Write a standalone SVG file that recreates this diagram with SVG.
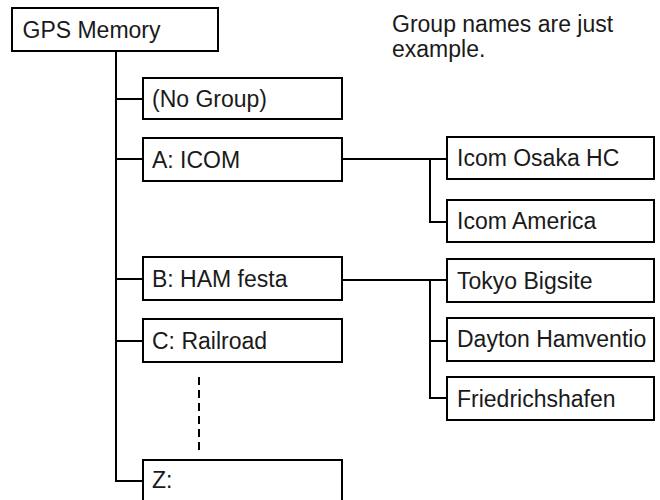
<svg xmlns="http://www.w3.org/2000/svg" width="660" height="500" viewBox="0 0 660 500">
<style>
.box{fill:#fff;stroke:#000;stroke-width:2}
.t{font-family:"Liberation Sans",Arial,sans-serif;font-size:23px;fill:#1a1a1a}
.c{fill:none;stroke:#000;stroke-width:2}
</style>
<rect width="660" height="500" fill="#fff"/>
<g id="connectors">
<path class="c" d="M116 51V481H143M116 99H143M116 159H143M116 279H143M116 341H143"/>
<path class="c" d="M342 159H447M430 159V222H447"/>
<path class="c" d="M342 280H447M430 280V398H447M430 341H447"/>
<path class="c" d="M199 377V450" stroke-dasharray="8,5"/>
</g>
<g id="gps"><rect class="box" x="12" y="8" width="206" height="43"/><text class="t" x="22.5" y="37.5">GPS Memory</text></g>
<g id="nogroup"><rect class="box" x="143" y="78" width="199" height="41"/><text class="t" x="152" y="106.5">(No Group)</text></g>
<g id="a"><rect class="box" x="143" y="138" width="199" height="43"/><text class="t" x="152" y="167.5">A: ICOM</text></g>
<g id="b"><rect class="box" x="143" y="257" width="199" height="43"/><text class="t" x="152" y="286.5">B: HAM festa</text></g>
<g id="c"><rect class="box" x="143" y="319" width="199" height="43"/><text class="t" x="152" y="348.5">C: Railroad</text></g>
<g id="z"><rect class="box" x="143" y="460" width="199" height="42"/><text class="t" x="152" y="488">Z:</text></g>
<g id="osaka"><rect class="box" x="447" y="137" width="207" height="42"/><text class="t" x="457" y="166">Icom Osaka HC</text></g>
<g id="america"><rect class="box" x="447" y="200" width="207" height="42"/><text class="t" x="457" y="229">Icom America</text></g>
<g id="tokyo"><rect class="box" x="447" y="259" width="207" height="43"/><text class="t" x="457" y="288.5">Tokyo Bigsite</text></g>
<g id="dayton"><rect class="box" x="447" y="318" width="207" height="43"/><text class="t" x="457" y="347">Dayton Hamventio</text></g>
<g id="fried"><rect class="box" x="447" y="377" width="207" height="43"/><text class="t" x="457" y="406.5">Friedrichshafen</text></g>
<g id="note"><text class="t" x="392" y="32">Group names are just</text><text class="t" x="392" y="57">example.</text></g>
</svg>
